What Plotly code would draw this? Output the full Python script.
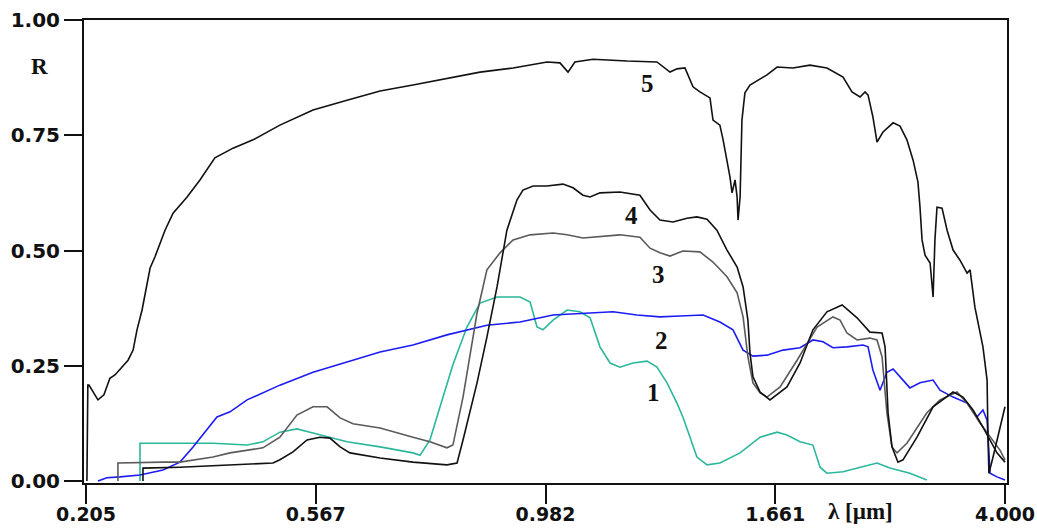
import plotly.graph_objects as go

# Horizontal position runs 0..4 on an evenly spaced scale; each unit is one labelled wavelength step.
tick_pos = [0, 1, 2, 3, 4]
tick_text = ["0.205", "0.567", "0.982", "1.661", "4.000"]
r_ticks = [0.0, 0.25, 0.5, 0.75, 1.0]
r_text = ["0.00", "0.25", "0.50", "0.75", "1.00"]

# Curve 1
u1 = [0.235, 0.235, 0.409, 0.553, 0.701, 0.770, 0.844, 0.918, 0.988, 1.136, 1.280, 1.423, 1.454,
      1.497, 1.541, 1.597, 1.658, 1.715, 1.789, 1.889, 1.933, 1.963, 1.989, 2.033, 2.094, 2.150,
      2.194, 2.237, 2.281, 2.324, 2.381, 2.442, 2.485, 2.529, 2.572, 2.598, 2.629, 2.659, 2.703,
      2.759, 2.847, 2.934, 3.008, 3.051, 3.108, 3.164, 3.195, 3.225, 3.295, 3.369, 3.443, 3.499,
      3.586, 3.660]
r1 = [0.0, 0.082, 0.082, 0.082, 0.078, 0.085, 0.106, 0.113, 0.104, 0.085, 0.074, 0.061, 0.056,
      0.089, 0.161, 0.252, 0.334, 0.386, 0.399, 0.399, 0.388, 0.334, 0.328, 0.349, 0.371, 0.367,
      0.354, 0.291, 0.256, 0.247, 0.256, 0.260, 0.247, 0.213, 0.169, 0.139, 0.095, 0.052, 0.035,
      0.039, 0.061, 0.095, 0.106, 0.100, 0.085, 0.078, 0.030, 0.017, 0.020, 0.030, 0.039, 0.028,
      0.017, 0.002]

# Curve 2
u2 = [0.052, 0.091, 0.148, 0.235, 0.335, 0.409, 0.466, 0.527, 0.570, 0.627, 0.701, 0.844, 0.988,
      1.136, 1.280, 1.423, 1.571, 1.745, 1.889, 2.033, 2.181, 2.294, 2.398, 2.498, 2.585, 2.686,
      2.759, 2.816, 2.860, 2.903, 2.964, 3.034, 3.108, 3.164, 3.208, 3.251, 3.312, 3.382, 3.404,
      3.425, 3.456, 3.486, 3.513, 3.543, 3.586, 3.630, 3.687, 3.717, 3.774, 3.835, 3.878, 3.904,
      3.922, 3.935, 3.965, 4.000]
r2 = [0.0, 0.007, 0.009, 0.013, 0.024, 0.041, 0.074, 0.111, 0.139, 0.150, 0.176, 0.208, 0.236,
      0.258, 0.280, 0.295, 0.317, 0.338, 0.345, 0.360, 0.364, 0.367, 0.360, 0.356, 0.358, 0.360,
      0.345, 0.328, 0.284, 0.271, 0.273, 0.284, 0.289, 0.306, 0.302, 0.289, 0.291, 0.295, 0.291,
      0.241, 0.197, 0.236, 0.243, 0.226, 0.202, 0.213, 0.219, 0.197, 0.182, 0.169, 0.139, 0.154,
      0.132, 0.017, 0.009, 0.002]

# Curve 3
u3 = [0.139, 0.139, 0.335, 0.409, 0.553, 0.627, 0.770, 0.844, 0.918, 0.988, 1.049, 1.106, 1.162,
      1.280, 1.423, 1.497, 1.571, 1.597, 1.641, 1.702, 1.745, 1.802, 1.859, 1.933, 2.033, 2.094,
      2.163, 2.250, 2.324, 2.411, 2.455, 2.498, 2.542, 2.598, 2.672, 2.729, 2.790, 2.834, 2.860,
      2.881, 2.903, 2.934, 2.964, 3.021, 3.095, 3.182, 3.251, 3.282, 3.312, 3.356, 3.412, 3.443,
      3.465, 3.486, 3.508, 3.530, 3.573, 3.660, 3.717, 3.791, 3.835, 3.891, 3.935, 3.978, 4.000]
r3 = [0.0, 0.039, 0.041, 0.041, 0.052, 0.061, 0.072, 0.095, 0.143, 0.161, 0.161, 0.137, 0.124,
      0.115, 0.095, 0.085, 0.072, 0.078, 0.182, 0.364, 0.458, 0.495, 0.523, 0.534, 0.538, 0.534,
      0.527, 0.531, 0.534, 0.529, 0.505, 0.495, 0.488, 0.499, 0.497, 0.475, 0.443, 0.408, 0.356,
      0.269, 0.213, 0.191, 0.182, 0.204, 0.262, 0.334, 0.356, 0.349, 0.321, 0.306, 0.310, 0.306,
      0.269, 0.148, 0.074, 0.061, 0.082, 0.148, 0.176, 0.193, 0.169, 0.126, 0.095, 0.067, 0.046]

# Curve 4
u4 = [0.248, 0.248, 0.409, 0.627, 0.814, 0.844, 0.901, 0.962, 1.018, 1.062, 1.106, 1.149, 1.280,
      1.423, 1.571, 1.615, 1.641, 1.702, 1.745, 1.789, 1.832, 1.876, 1.902, 1.946, 2.006, 2.076,
      2.120, 2.163, 2.194, 2.237, 2.324, 2.411, 2.455, 2.498, 2.555, 2.616, 2.659, 2.703, 2.746,
      2.790, 2.834, 2.860, 2.881, 2.890, 2.903, 2.934, 2.977, 3.051, 3.108, 3.164, 3.225, 3.291,
      3.356, 3.412, 3.465, 3.478, 3.491, 3.508, 3.534, 3.556, 3.617, 3.687, 3.774, 3.817, 3.861,
      3.904, 3.935, 3.965, 4.000]
r4 = [0.0, 0.028, 0.030, 0.035, 0.039, 0.046, 0.063, 0.089, 0.095, 0.093, 0.074, 0.061, 0.050,
      0.041, 0.035, 0.039, 0.089, 0.213, 0.312, 0.421, 0.544, 0.610, 0.631, 0.640, 0.640, 0.644,
      0.636, 0.620, 0.616, 0.625, 0.627, 0.620, 0.588, 0.566, 0.562, 0.570, 0.573, 0.568, 0.544,
      0.501, 0.464, 0.421, 0.349, 0.278, 0.226, 0.193, 0.176, 0.204, 0.256, 0.328, 0.367, 0.382,
      0.354, 0.323, 0.321, 0.291, 0.148, 0.074, 0.041, 0.046, 0.095, 0.161, 0.193, 0.182, 0.154,
      0.117, 0.089, 0.061, 0.041]

# Curve 5
u5 = [0.004, 0.008, 0.013, 0.052, 0.078, 0.104, 0.126, 0.157, 0.183, 0.205, 0.222, 0.244, 0.261,
      0.279, 0.300, 0.344, 0.379, 0.440, 0.496, 0.561, 0.640, 0.727, 0.844, 0.988, 1.136, 1.280,
      1.423, 1.571, 1.715, 1.859, 2.007, 2.063, 2.098, 2.128, 2.207, 2.355, 2.485, 2.542, 2.572,
      2.607, 2.642, 2.672, 2.716, 2.729, 2.759, 2.773, 2.790, 2.803, 2.812, 2.825, 2.834, 2.838,
      2.847, 2.855, 2.868, 2.890, 2.964, 3.008, 3.077, 3.151, 3.225, 3.295, 3.334, 3.369, 3.391,
      3.404, 3.425, 3.443, 3.469, 3.513, 3.543, 3.573, 3.600, 3.621, 3.630, 3.639, 3.652, 3.674,
      3.687, 3.695, 3.704, 3.726, 3.748, 3.774, 3.804, 3.835, 3.848, 3.861, 3.869, 3.904, 3.922,
      3.926, 3.930, 3.948, 4.000]
r5 = [0.0, 0.208, 0.208, 0.176, 0.187, 0.223, 0.230, 0.247, 0.262, 0.284, 0.328, 0.371, 0.414,
      0.462, 0.486, 0.544, 0.581, 0.616, 0.653, 0.701, 0.722, 0.740, 0.772, 0.805, 0.826, 0.846,
      0.859, 0.874, 0.887, 0.896, 0.909, 0.907, 0.887, 0.909, 0.915, 0.911, 0.909, 0.887, 0.894,
      0.896, 0.855, 0.844, 0.831, 0.783, 0.772, 0.740, 0.696, 0.659, 0.625, 0.653, 0.616, 0.566,
      0.616, 0.783, 0.842, 0.859, 0.881, 0.898, 0.896, 0.902, 0.896, 0.876, 0.844, 0.833, 0.844,
      0.837, 0.790, 0.735, 0.757, 0.777, 0.770, 0.740, 0.696, 0.649, 0.594, 0.523, 0.490, 0.473,
      0.399, 0.523, 0.594, 0.592, 0.544, 0.501, 0.479, 0.451, 0.458, 0.399, 0.377, 0.291, 0.219,
      0.095, 0.017, 0.052, 0.161]

curve_names = ["1", "2", "3", "4", "5"]
curve_colors = ["#2bb79b", "#1c1cf2", "#5a5a5a", "#111111", "#111111"]
label_u = [2.468, 2.503, 2.490, 2.376, 2.442]
label_r = [0.191, 0.304, 0.447, 0.577, 0.863]

fig = go.Figure()
for xs, ys, col, name in zip([u1, u2, u3, u4, u5], [r1, r2, r3, r4, r5], curve_colors, curve_names):
    fig.add_trace(go.Scatter(x=xs, y=ys, mode="lines", name=name,
                             line=dict(color=col, width=1.6), hoverinfo="skip"))

for name, ux, ry in zip(curve_names, label_u, label_r):
    fig.add_annotation(x=ux, y=ry, text=f"<b>{name}</b>", showarrow=False,
                       xanchor="center", yanchor="middle",
                       font=dict(family="Liberation Serif", size=25, color="#111111"))

fig.add_annotation(xref="paper", yref="paper", x=-0.0477, y=0.9006, text="<b>R</b>",
                   showarrow=False, xanchor="center", yanchor="middle",
                   font=dict(family="Liberation Serif", size=23, color="#111111"))
fig.add_annotation(xref="paper", yref="paper", x=0.8418, y=-0.0605, text="<b>λ [µm]</b>",
                   showarrow=False, xanchor="center", yanchor="middle",
                   font=dict(family="Liberation Serif", size=23, color="#111111"))

x_font = dict(family="DejaVu Sans", size=19, color="#111111")
y_font = dict(family="DejaVu Sans", size=20, color="#111111")
fig.update_layout(
    width=1037, height=528,
    margin=dict(l=84, r=30, t=20, b=45),
    paper_bgcolor="white", plot_bgcolor="white",
    showlegend=False,
    xaxis=dict(range=[-0.0087, 4.0087], tickvals=tick_pos,
               ticktext=[f"<b>{t}</b>" for t in tick_text], automargin=False,
               showgrid=False, zeroline=False, showline=True, mirror=True,
               linecolor="#111111", linewidth=2, ticks="outside", ticklen=19,
               tickwidth=2, tickcolor="#111111", tickfont=x_font,
               ticklabelstandoff=-6),
    yaxis=dict(range=[-0.0043, 1.0], tickvals=r_ticks,
               ticktext=[f"<b>{t}</b>" for t in r_text], automargin=False,
               showgrid=False, zeroline=False, showline=True, mirror=True,
               linecolor="#111111", linewidth=2, ticks="outside", ticklen=18,
               tickwidth=2, tickcolor="#111111", tickfont=y_font),
)

fig.write_html("out.html")
